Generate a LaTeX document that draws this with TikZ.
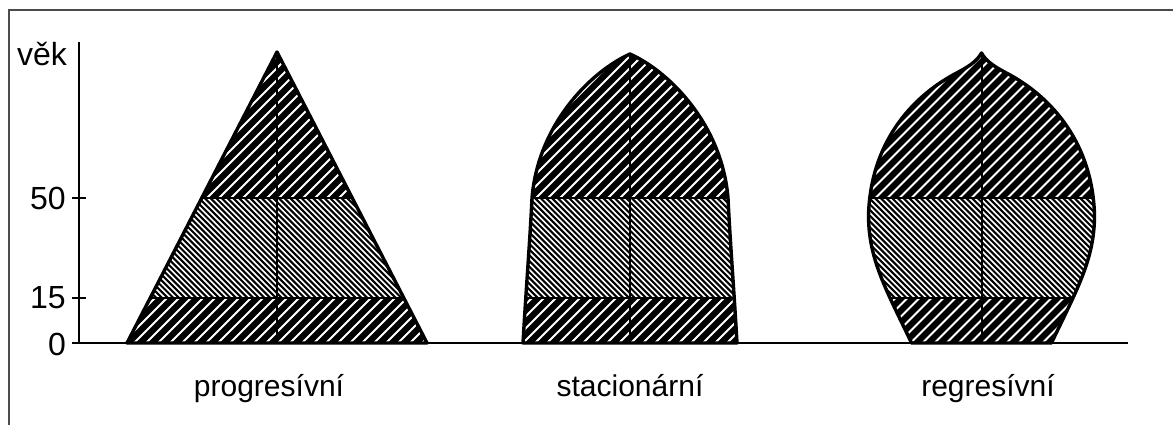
\documentclass[tikz,border=0pt]{standalone}
\usepackage{fontspec}
\setmainfont{Liberation Sans}
\newcommand\myhatch[2]{%
  \begin{scope}
    \clip #1;
    \fill[black] (0,30) rectangle (1173,198);
    \fill[black] (0,298) rectangle (1173,350);
    \fill[white] (0,198) rectangle (1173,298);
    \begin{scope}
      \clip (0,30) rectangle (1173,198) (0,298) rectangle (1173,350);
      \foreach \i in {-440,-428,...,160}
        \draw[white,line width=2.1] ({#2+\i},352) -- ++(330,-330);
    \end{scope}
    \begin{scope}
      \clip (0,198) rectangle (1173,298);
      \foreach \i in {-240,-234.3,...,140}
        \draw[black,line width=2.1] ({#2+\i},190) -- ++(120,120);
    \end{scope}
    \draw[line width=2.6] (0,198) -- (1173,198) (0,298) -- (1173,298);
    \draw[line width=2] (#2,30) -- (#2,350);
  \end{scope}
  \draw[line width=3.4,line join=round] #1;
}
\begin{document}
\begin{tikzpicture}[x=1pt,y=-1pt,
  lab/.style={font=\fontsize{32}{32}\selectfont, inner sep=0pt},
  blab/.style={font=\fontsize{30}{30}\selectfont, inner sep=0pt}]
\useasboundingbox (0,0) rectangle (1173,425);
\draw[black!70,line width=1.5] (9,425) -- (9,10) -- (1173,10);
% shapes
\myhatch{(127,343) -- (277,52) -- (427,343) -- cycle}{277}
\myhatch{(523,343) .. controls (526,290) and (530,240) .. (532,198)
  .. controls (538,125) and (590,72) .. (630,54)
  .. controls (670,72) and (722,125) .. (728,198)
  .. controls (730,240) and (734,290) .. (737,343) -- cycle}{630}
\myhatch{(911.5,343) .. controls (886.5,290) and (868.5,260) .. (868.5,215)
  .. controls (870.5,145) and (909.5,97) .. (958.5,72)
  .. controls (971.5,65) and (977.5,60) .. (981.5,53)
  .. controls (985.5,60) and (991.5,65) .. (1004.5,72)
  .. controls (1053.5,97) and (1092.5,145) .. (1094.5,215)
  .. controls (1094.5,260) and (1076.5,290) .. (1051.5,343) -- cycle}{981.5}
% axis
\draw[line width=2] (79,42) -- (79,343);
\draw[line width=2] (72,198) -- (86,198) (72,298) -- (86,298);
\draw[line width=2.4] (72,343) -- (1128,343);
\node[lab,anchor=base west] (vek) at (17,66) {věk};
\node[lab,anchor=east] (l50) at (66,198) {50};
\node[lab,anchor=east] (l15) at (66,298) {15};
\node[lab,anchor=east] (l0) at (66,344) {0};
\node[blab,anchor=base] (t1) at (269,396) {progresívní};
\node[blab,anchor=base] (t2) at (630,396) {stacionární};
\node[blab,anchor=base] (t3) at (988,396) {regresívní};
\end{tikzpicture}
\end{document}
